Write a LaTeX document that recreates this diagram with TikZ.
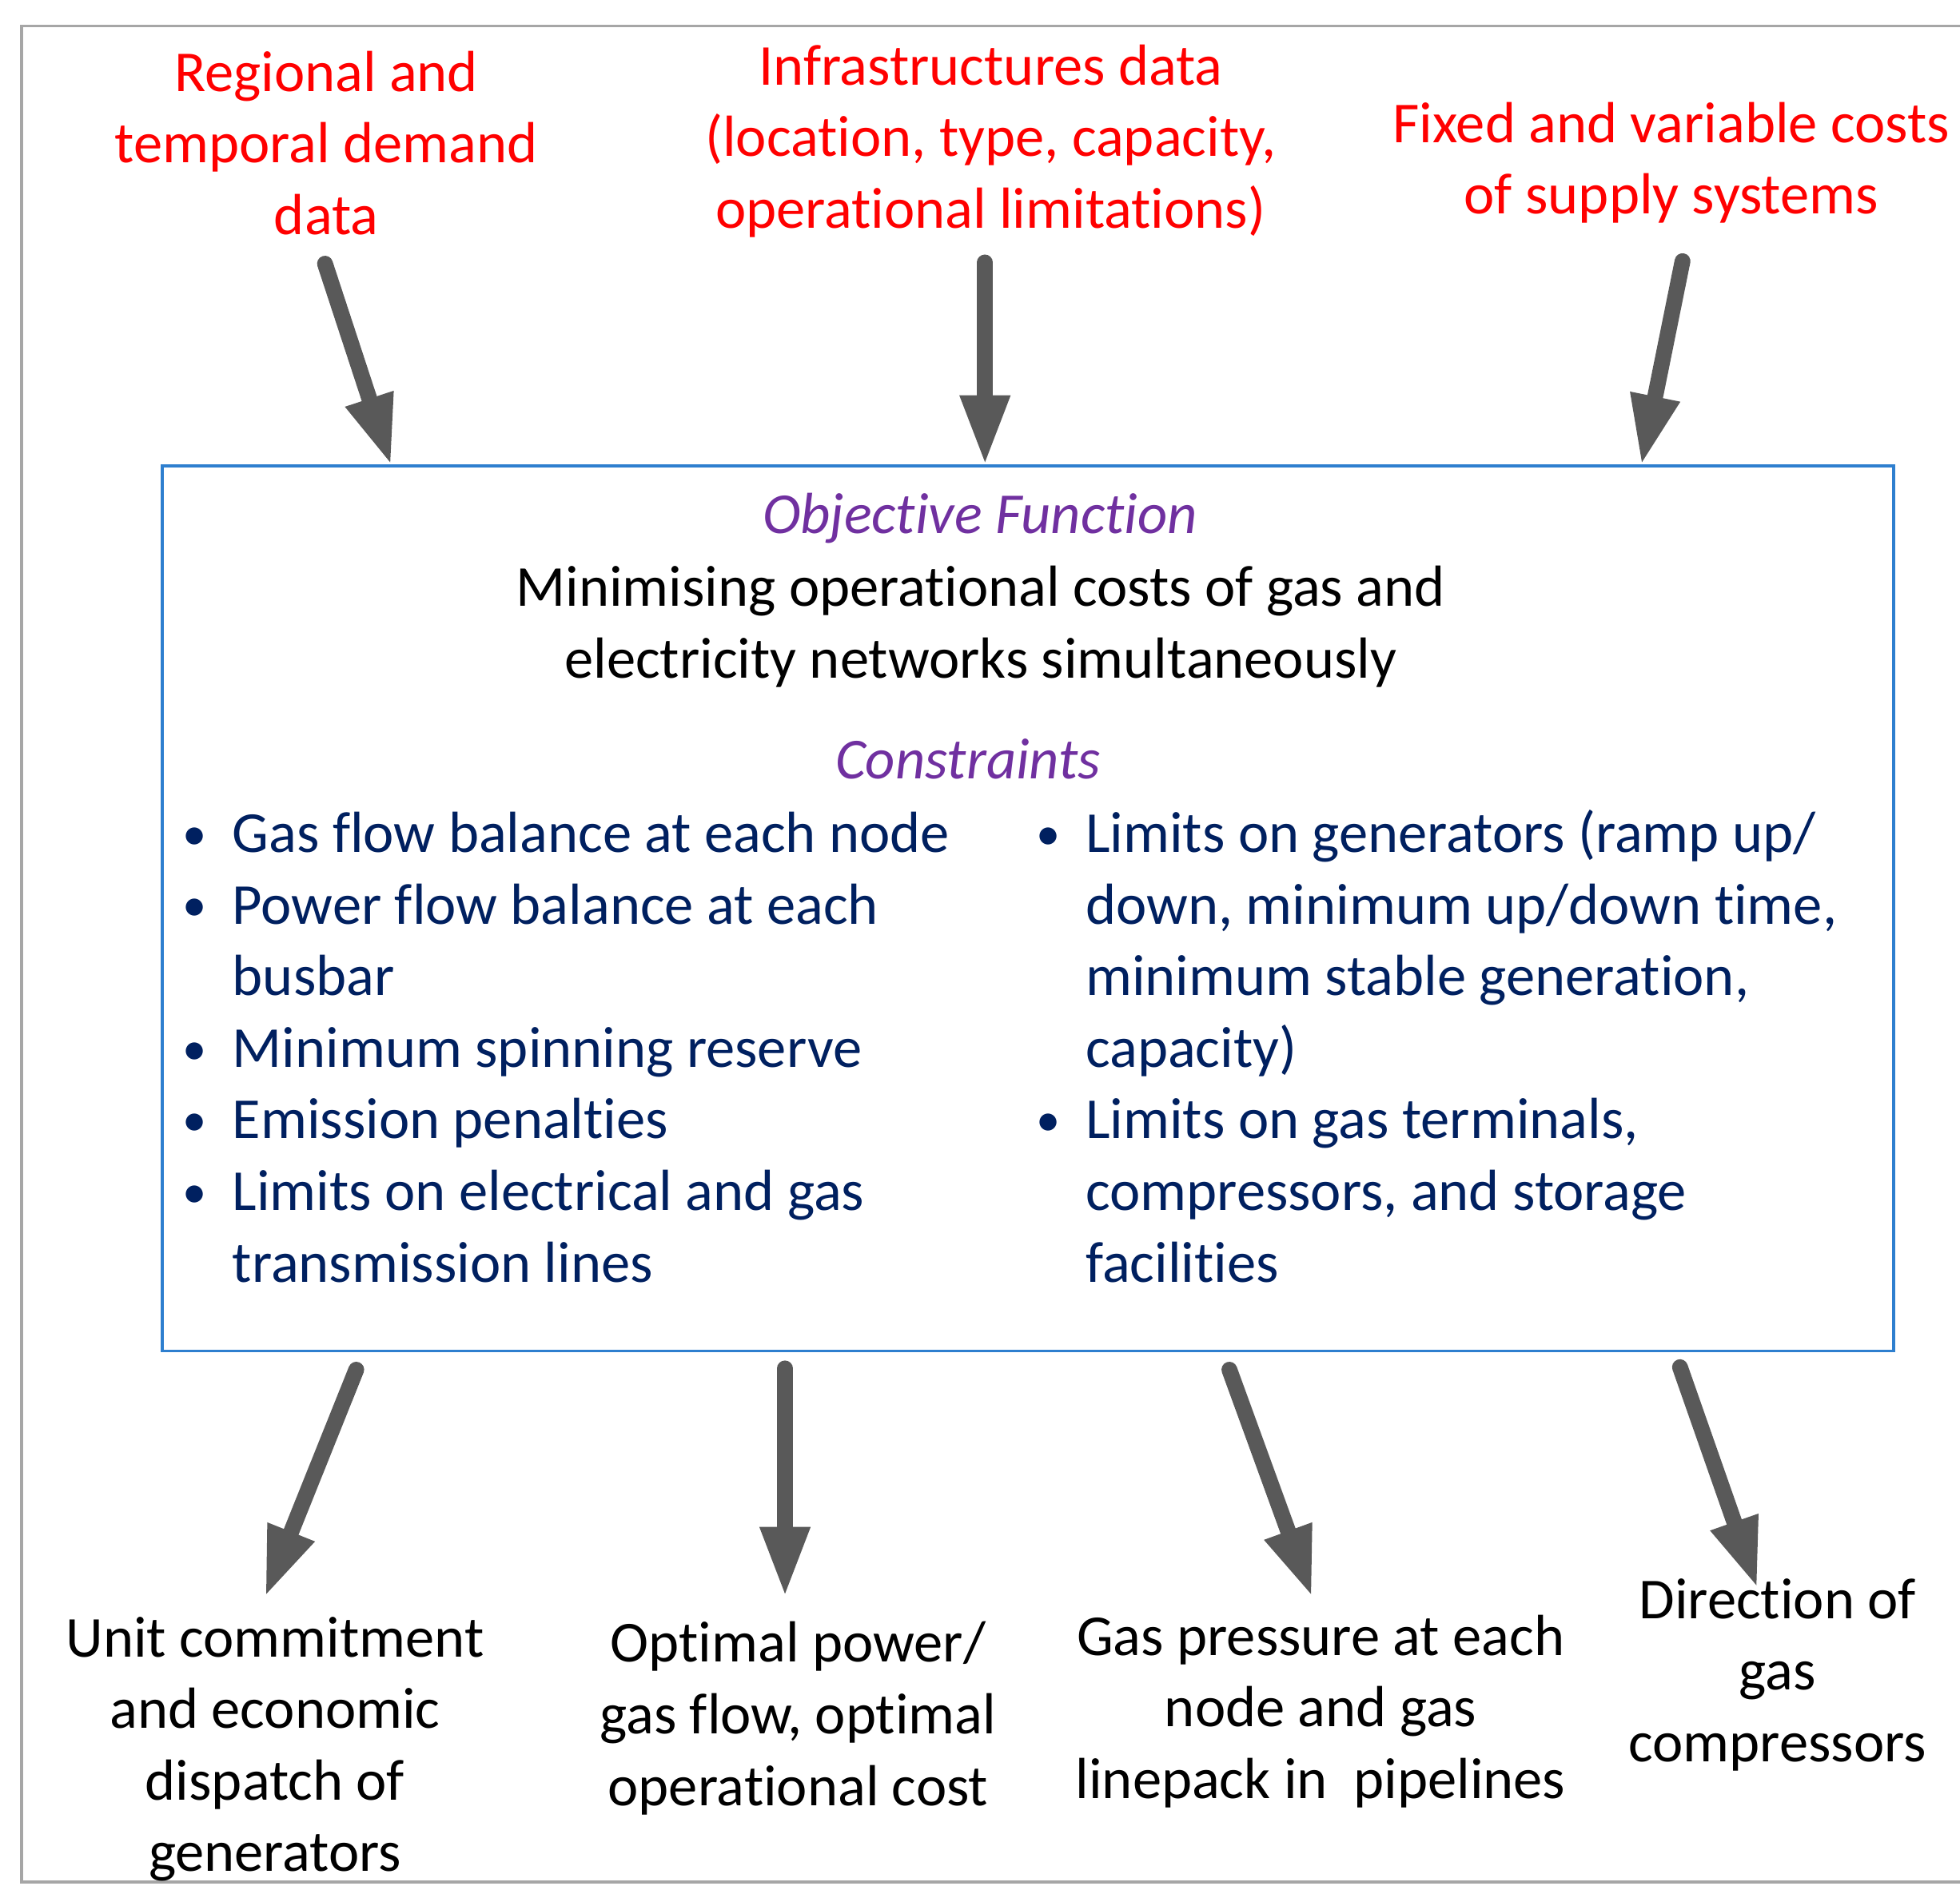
\documentclass[tikz,border=0pt]{standalone}
\usepackage{fontspec}
\setmainfont[Ligatures=NoCommon]{Carlito}
\usetikzlibrary{arrows.meta}
\definecolor{inred}{HTML}{FF0000}
\definecolor{objpurple}{HTML}{7030A0}
\definecolor{navy}{HTML}{002060}
\definecolor{arrowgray}{HTML}{595959}
\definecolor{boxblue}{HTML}{2E7FCF}
\definecolor{framegray}{HTML}{A6A6A6}
\newcommand\bul{\llap{\makebox[6mm][c]{\raisebox{0.6pt}{\fontsize{11pt}{11pt}\selectfont•}}}}
\begin{document}
\begin{tikzpicture}[x=0.1mm,y=-0.1mm,
  basefont/.style={font=\fontsize{13.2pt}{16.3pt}\selectfont},
  txt/.style={basefont, inner sep=0pt, outer sep=0pt, align=center, anchor=base},
  intxt/.style={txt, text=inred},
  outtxt/.style={txt, text=black},
  headtxt/.style={txt, text=objpurple, font=\fontsize{13.2pt}{16.3pt}\selectfont\itshape},
  coltxt/.style={basefont, inner sep=0pt, outer sep=0pt, align=left, anchor=base west, text=navy},
  bigarrow/.style={draw=arrowgray, line width=3.6pt, line cap=round,
    -{Triangle[length=16pt,width=10.5pt]}}
]
\useasboundingbox (0,0) rectangle (1568,1509);
% outer frame
\draw[framegray, line width=0.6pt] (1600,20.7) -- (17.3,20.7) -- (17.3,1506) -- (1600,1506);

% main box
\node[draw=boxblue, line width=0.7pt, fill=white, inner sep=0pt, outer sep=0pt,
  minimum width=138.5mm, minimum height=70.8mm, anchor=north west] (box) at (130,373) {};

% inputs (positions are the baselines of the last lines)
\node[intxt] (in1) at (261,187.6) {Regional and\\temporal demand\\data};
\node[intxt] (in2) at (792.5,182.6) {Infrastructures data\\(location, type, capacity,\\operational limitations)};
\node[intxt] (in3) at (1337,171.3) {Fixed and variable costs\\of supply systems};

% box content
\node[headtxt] (obj) at (784,427) {Objective Function};
\node[outtxt] (min) at (784.5,542.3) {Minimising operational costs of gas and\\electricity networks simultaneously};
\node[headtxt] (con) at (774.5,623) {Constraints};
\node[coltxt] (colL) at (186,1025.8) {\bul Gas flow balance at each node\\
\bul Power flow balance at each\\
busbar\\
\bul Minimum spinning reserve\\
\bul Emission penalties\\
\bul Limits on electrical and gas\\
transmission lines};
\node[coltxt] (colR) at (868.6,1025.8) {\bul Limits on generators (ramp up/\\
down, minimum up/down time,\\
minimum stable generation,\\
capacity)\\
\bul Limits on gas terminals,\\
compressors, and storage\\
facilities};

% outputs
\node[outtxt] (out1) at (220,1497.5) {Unit commitment\\and economic\\dispatch of\\generators};
\node[outtxt] (out2) at (638.5,1444.6) {Optimal power/\\gas flow, optimal\\operational cost};
\node[outtxt] (out3) at (1056.5,1439.1) {Gas pressure at each\\node and gas\\linepack in~ pipelines};
\node[outtxt] (out4) at (1422,1409.6) {Direction of\\gas\\compressors};

% arrow end points
\coordinate (s1) at (260,211);
\coordinate (t1) at (313,372.5);
\coordinate (s2) at (788,210);
\coordinate (t2) at (788,372.5);
\coordinate (s3) at (1346,209);
\coordinate (t3) at (1313,372.5);
\coordinate (u1) at (285,1096);
\coordinate (v1) at (212,1278);
\coordinate (u2) at (628,1095);
\coordinate (v2) at (628,1278);
\coordinate (u3) at (983.5,1096);
\coordinate (v3) at (1049.7,1278);
\coordinate (u4) at (1344,1094);
\coordinate (v4) at (1406,1271);

\draw[bigarrow] (s1) -- (t1);
\draw[bigarrow] (s2) -- (t2);
\draw[bigarrow] (s3) -- (t3);
\draw[bigarrow] (u1) -- (v1);
\draw[bigarrow] (u2) -- (v2);
\draw[bigarrow] (u3) -- (v3);
\draw[bigarrow] (u4) -- (v4);
\end{tikzpicture}
\end{document}
